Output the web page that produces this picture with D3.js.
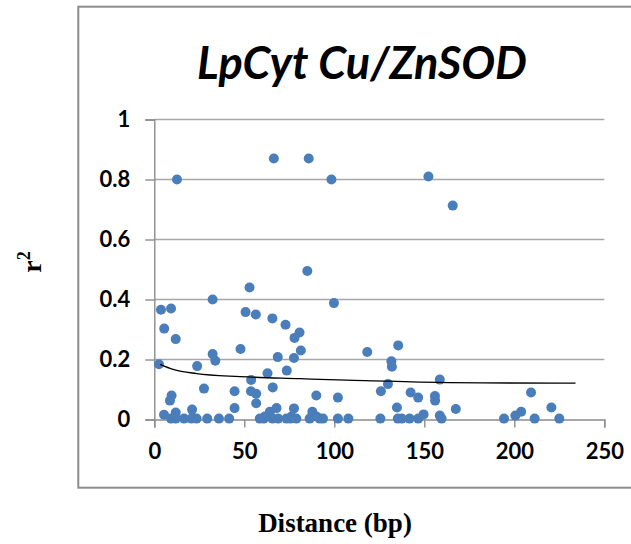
<!DOCTYPE html>
<html>
<head>
<meta charset="utf-8">
<script src="https://cdn.jsdelivr.net/npm/d3@7"></script>
<style>
  body { margin: 0; background: #fff; }
  svg { display: block; }
</style>
</head>
<body>
<svg id="chart"></svg>
<script>
// Size of the page and the plot box
const width = 631;
const height = 544;
const margin = { top: 119.5, left: 154.3, bottom: 124.5, right: 26 };

// Distance (bp) and r^2 for each marker
const distance = [
  12.6, 66.4, 85.8, 98.4, 152.3, 165.8, 85, 52.9, 32.4, 99.8,
  3.7, 9.3, 50.7, 56.4, 65.6, 72.9, 80.7, 77.9, 5.5, 11.9,
  47.9, 81.4, 118.3, 32.4, 33.9, 68.6, 77.6, 2.6, 23.8, 73.6,
  62.9, 53.8, 129.8, 65.8, 27.6, 53.7, 56.6, 44.6, 9.6, 8.7,
  125.9, 90, 102, 56.6, 44.6, 67.9, 77.6, 87.8, 21, 5.4,
  11.9, 64.2,
  9.3, 11.9, 16.5, 20.7, 23.5, 29.4, 35.9, 41.6, 58.6, 60.8,
  65.7, 68.8, 73.4, 75.6, 78.9, 86.3, 91.9, 93.7, 102, 107.8, 125.6,
  61.4, 63.2, 76.2, 88.2, 90.1,
  135.5, 131.7, 132, 158.6, 142.4, 146.6, 155.9, 156, 209.3, 134.8,
  167.5, 220.6, 149.6, 158.6, 203.8, 200.6,
  135.3, 137.5, 141.8, 146.6, 159.6, 194.3, 211.3, 225
];
const r2 = [
  0.80, 0.87, 0.87, 0.80, 0.81, 0.713, 0.495, 0.44, 0.40, 0.388,
  0.366, 0.37, 0.358, 0.35, 0.337, 0.316, 0.29, 0.272, 0.303, 0.268,
  0.235, 0.23, 0.225, 0.218, 0.196, 0.208, 0.205, 0.184, 0.178, 0.163,
  0.154, 0.132, 0.118, 0.107, 0.103, 0.094, 0.086, 0.094, 0.08, 0.063,
  0.094, 0.08, 0.073, 0.054, 0.038, 0.038, 0.037, 0.026, 0.033, 0.016,
  0.023, 0.026,
  0.003, 0.003, 0.003, 0.003, 0.003, 0.003, 0.003, 0.003, 0.003, 0.003,
  0.003, 0.003, 0.003, 0.003, 0.003, 0.003, 0.003, 0.003, 0.003, 0.003, 0.003,
  0.01, 0.01, 0.01, 0.01, 0.01,
  0.247, 0.194, 0.176, 0.133, 0.09, 0.073, 0.078, 0.063, 0.09, 0.04,
  0.035, 0.04, 0.017, 0.013, 0.026, 0.013,
  0.003, 0.003, 0.003, 0.003, 0.003, 0.003, 0.003, 0.003
];

// Trend line, read at a few places along the curve
const trendX = [3.2, 10.5, 23.5, 47.5, 80.8, 106.7, 130.7, 139, 182.5, 234];
const trendY = [0.184, 0.167, 0.153, 0.143, 0.136, 0.131, 0.128, 0.126, 0.122, 0.121];

// Axis ticks
const xTicks = [0, 50, 100, 150, 200, 250];
const yTicks = [0, 0.2, 0.4, 0.6, 0.8, 1];
const yTickLabels = ["0", "0.2", "0.4", "0.6", "0.8", "1"];

const svg = d3.select("#chart")
    .attr("width", width)
    .attr("height", height);

const x = d3.scaleLinear()
    .domain([0, 250])
    .range([margin.left, width - margin.right - 0.7]);
const y = d3.scaleLinear()
    .domain([0, 1])
    .range([height - margin.bottom, margin.top]);

// Outer chart border (runs off the right edge)
svg.append("rect")
    .attr("x", 78.3)
    .attr("y", 6.7)
    .attr("width", 600)
    .attr("height", 481)
    .attr("fill", "none")
    .attr("stroke", "#8c8c8c")
    .attr("stroke-width", 2);

// Horizontal grid lines
svg.append("g")
    .selectAll("line")
    .data(yTicks.filter(d => d > 0))
    .enter().append("line")
    .attr("x1", x(0))
    .attr("x2", x(250))
    .attr("y1", d => y(d))
    .attr("y2", d => y(d))
    .attr("stroke", "#a6a6a6")
    .attr("stroke-width", 1.3);

// Y axis
const yAxis = d3.axisLeft(y)
    .tickValues(yTicks)
    .tickFormat((d, i) => yTickLabels[i])
    .tickSize(9)
    .tickPadding(15);
const gy = svg.append("g")
    .attr("transform", `translate(${x(0)},0)`)
    .call(yAxis);

// X axis
const xAxis = d3.axisBottom(x)
    .tickValues(xTicks)
    .tickSize(8)
    .tickPadding(16);
const gx = svg.append("g")
    .attr("transform", `translate(0,${y(0)})`)
    .call(xAxis);

[gx, gy].forEach(g => {
    g.select(".domain").attr("stroke", "#8c8c8c").attr("stroke-width", 1.4);
    g.selectAll(".tick line").attr("stroke", "#8c8c8c").attr("stroke-width", 1.4);
    g.selectAll(".tick text")
        .attr("fill", "#000")
        .attr("font-family", "Lato, 'Open Sans', sans-serif")
        .attr("font-weight", "bold")
        .attr("font-size", "22px");
});

// Markers
const points = distance.map((d, i) => ({ d: d, r: r2[i] }));
svg.append("g")
    .selectAll("circle")
    .data(points)
    .enter().append("circle")
    .attr("cx", p => x(p.d))
    .attr("cy", p => y(p.r))
    .attr("r", 5)
    .attr("fill", "#4a7ebb");

// Trend line
const trend = trendX.map((d, i) => [d, trendY[i]]);
const line = d3.line()
    .x(p => x(p[0]))
    .y(p => y(p[1]))
    .curve(d3.curveMonotoneX);
svg.append("path")
    .attr("d", line(trend))
    .attr("fill", "none")
    .attr("stroke", "#000")
    .attr("stroke-width", 1.3);

// Title
svg.append("text")
    .attr("x", 362)
    .attr("y", 79)
    .attr("text-anchor", "middle")
    .attr("font-family", "Lato, 'Open Sans', sans-serif")
    .attr("font-weight", "bold")
    .attr("font-style", "italic")
    .attr("font-size", "45px")
    .text("LpCyt Cu/ZnSOD");

// Axis titles
svg.append("text")
    .attr("x", 335)
    .attr("y", 532)
    .attr("text-anchor", "middle")
    .attr("font-family", "'Liberation Serif', 'Times New Roman', serif")
    .attr("font-weight", "bold")
    .attr("font-size", "27px")
    .text("Distance (bp)");

const yTitle = svg.append("text")
    .attr("transform", "translate(41,262) rotate(-90)")
    .attr("text-anchor", "middle")
    .attr("font-family", "'Liberation Serif', 'Times New Roman', serif")
    .attr("font-weight", "bold")
    .attr("font-size", "28px");
yTitle.append("tspan").text("r");
yTitle.append("tspan")
    .attr("font-size", "18px")
    .attr("dy", "-11")
    .text("2");
</script>
</body>
</html>
